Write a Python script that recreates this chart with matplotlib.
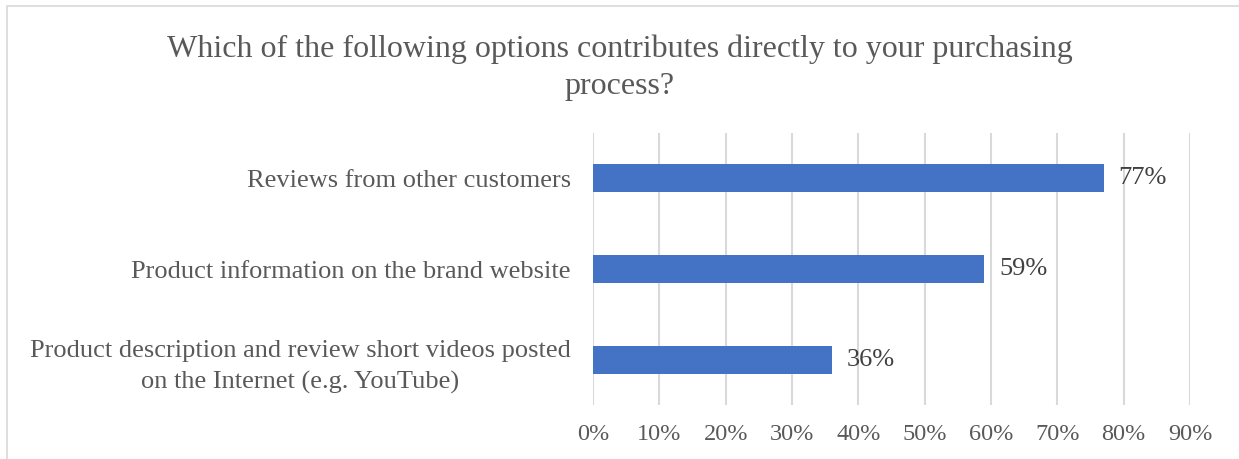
import matplotlib.pyplot as plt
from matplotlib.patches import Rectangle
from matplotlib.ticker import PercentFormatter

# Survey answers, bottom to top as drawn
options = [
    "Product description and review short videos posted\non the Internet (e.g. YouTube)",
    "Product information on the brand website",
    "Reviews from other customers",
]
shares = [36, 59, 77]
ticks = [0, 10, 20, 30, 40, 50, 60, 70, 80, 90]

title = ("Which of the following options contributes directly to your purchasing\n"
         "process?")

plt.rcParams['font.family'] = ['Liberation Serif', 'DejaVu Serif']

fig = plt.figure(figsize=(12.39, 4.59), dpi=100)
ax = fig.add_axes([593 / 1239, 1 - 405 / 459, (1190 - 593) / 1239, (405 - 133) / 459])

# thin grey frame around the chart area
fig.patches.append(Rectangle((7 / 1239, -0.1), 1.2, 1 - 6 / 459 + 0.1,
                             transform=fig.transFigure, fill=False,
                             edgecolor='#D9D9D9', linewidth=1.2))

ypos = range(len(options))
ax.barh(ypos, shares, height=0.31, color='#4472C4', zorder=3)
for y, v in zip(ypos, shares):
    ax.text(v + 2.2, y, f"{v}%", va='center', ha='left',
            fontsize=19, color='#404040')

ax.set_xlim(0, 90)
ax.set_ylim(-0.5, len(options) - 0.5)
ax.set_xticks(ticks)
ax.xaxis.set_major_formatter(PercentFormatter(decimals=0))
ax.set_yticks(list(ypos))
ax.set_yticklabels(options, multialignment='center', linespacing=1.5)

ax.grid(axis='x', color='#D9D9D9', linewidth=1.5, zorder=0)
for s in ax.spines.values():
    s.set_visible(False)
ax.tick_params(axis='x', length=0, labelsize=17.5, labelcolor='#595959', pad=14)
ax.tick_params(axis='y', length=0, labelsize=19, labelcolor='#595959', pad=16)

fig.text(0.5, 1 - 68 / 459, title, ha='center', va='center',
         fontsize=23, color='#595959', linespacing=1.38)

fig.savefig('out.png', dpi=100)
